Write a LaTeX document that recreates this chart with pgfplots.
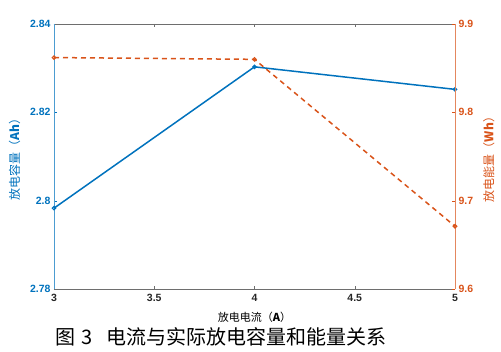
\documentclass[border=0pt]{standalone}
\usepackage{pgfplots}
\pgfplotsset{compat=1.18}
\usepackage{fontspec}
\setmainfont{Liberation Sans}
\newfontfamily\cjk{Noto Sans CJK SC}
\definecolor{mblue}{RGB}{0,114,189}
\definecolor{morange}{RGB}{217,83,25}
\definecolor{mgray}{RGB}{110,110,110}
\begin{document}
\begin{tikzpicture}
\pgfplotsset{
  common/.style={
    scale only axis, width=401pt, height=265pt,
    xmin=3, xmax=5,
    tick align=inside,
    major tick length=3pt,
    /pgf/number format/assume math mode=true,
    tick label style={font=\fontsize{10.5}{10.5}\selectfont\bfseries},
  }
}
\begin{axis}[common, name=a,
  ymin=2.78, ymax=2.84,
  xtick={3,3.5,4,4.5,5},
  xticklabels={3,3.5,4,4.5,5},
  ytick={2.78,2.8,2.82,2.84},
  yticklabels={2.78,2.8,2.82,2.84},
  axis y line*=left,
  axis x line*=box,
  x axis line style={mgray},
  y axis line style={mblue!70},
  xtick style={mgray},
  ytick style={mblue},
  yticklabel style={text=mblue},
  xticklabel style={text=black!85, yshift=-2pt},
  xlabel={\cjk\fontsize{11}{11}\selectfont 放电电流（\textbf{A}）},
  xlabel style={yshift=-3pt},
  ylabel={\cjk\fontsize{12}{12}\selectfont 放电容量（\textbf{Ah}）},
  ylabel style={text=mblue, yshift=3pt},
]
\addplot[mblue, line width=1.5pt, mark=o, mark size=1.7pt, mark options={solid, line width=1.2pt}]
  coordinates {(3,2.7983) (4,2.8303) (5,2.8252)};
\end{axis}
\begin{axis}[common,
  ymin=9.6, ymax=9.9,
  ytick={9.6,9.7,9.8,9.9},
  yticklabels={9.6,9.7,9.8,9.9},
  axis y line*=right,
  axis x line=none,
  y axis line style={morange!70},
  ytick style={morange},
  yticklabel style={text=morange},
  ylabel={\cjk\fontsize{12}{12}\selectfont 放电能量（\textbf{Wh}）},
  ylabel style={text=morange, yshift=-3pt},
]
\addplot[morange, line width=1.5pt, dash pattern=on 5pt off 4pt, mark=o, mark size=1.7pt, mark options={solid, line width=1.2pt}]
  coordinates {(3,9.862) (4,9.860) (5,9.671)};
\end{axis}
\node[anchor=west, inner sep=0pt] at ([xshift=1pt,yshift=-48pt]a.south west)
  {\cjk\fontsize{20}{20}\selectfont 图\hspace{6pt}3\hspace{14pt}电流与实际放电容量和能量关系};
\pgfresetboundingbox
\path ([xshift=-54pt,yshift=-62pt]a.south west) rectangle ([xshift=46pt,yshift=24pt]a.north east);
\end{tikzpicture}
\end{document}
